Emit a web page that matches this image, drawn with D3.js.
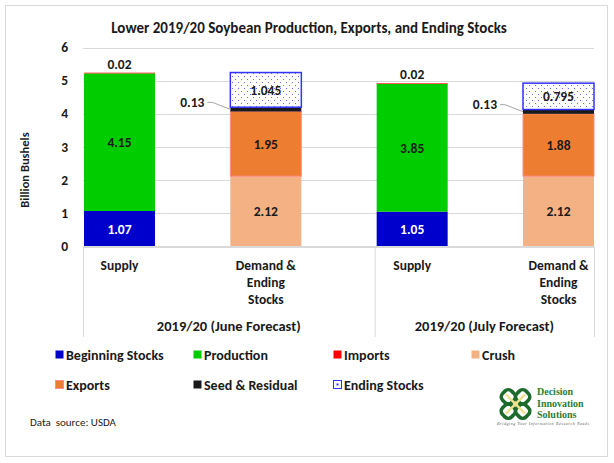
<!DOCTYPE html>
<html><head><meta charset="utf-8">
<script src="https://cdn.jsdelivr.net/npm/d3@7"></script>
<style>
html,body{margin:0;padding:0;background:#fff;}
svg{display:block;font-family:Carlito,Lato,"Open Sans",sans-serif;}
</style></head>
<body><svg id="c" width="614" height="463"></svg>
<script>
// ---- data ----
const title = "Lower 2019/20 Soybean Production, Exports, and Ending Stocks";
const categories = ["Supply", "Demand & Ending Stocks", "Supply", "Demand & Ending Stocks"];
const groups = ["2019/20 (June Forecast)", "2019/20 (July Forecast)"];
const seriesNames = ["Beginning Stocks", "Production", "Imports", "Crush", "Exports", "Seed & Residual", "Ending Stocks"];
const beginningStocks = [1.07, 0, 1.05, 0];
const production      = [4.15, 0, 3.85, 0];
const imports         = [0.02, 0, 0.02, 0];
const crush           = [0, 2.12, 0, 2.12];
const exportsV        = [0, 1.95, 0, 1.88];
const seedResidual    = [0, 0.13, 0, 0.13];
const endingStocks    = [0, 1.045, 0, 0.795];
const labelText = [
  ["1.07", "", "1.05", ""],
  ["4.15", "", "3.85", ""],
  ["0.02", "", "0.02", ""],
  ["", "2.12", "", "2.12"],
  ["", "1.95", "", "1.88"],
  ["", "0.13", "", "0.13"],
  ["", "1.045", "", "0.795"]
];
const yTicks = [0, 1, 2, 3, 4, 5, 6];
const colors = ["#0000CC", "#00CC00", "#FF0000", "#F4B183", "#ED7D31", "#1A1A1A", "url(#dots)"];
const strokes = ["none", "none", "none", "none", "#FF8C8C", "none", "#3333FF"];

// ---- build ----
const svg = d3.select("#c");
const keys = categories.map((c, i) => i + "|" + c);
const rows = keys.map((k, i) => ({
  key: k, i,
  "Beginning Stocks": beginningStocks[i], "Production": production[i], "Imports": imports[i],
  "Crush": crush[i], "Exports": exportsV[i], "Seed & Residual": seedResidual[i], "Ending Stocks": endingStocks[i]
}));
const stack = d3.stack().keys(seriesNames)(rows);

const y = d3.scaleLinear().domain([0, 6]).range([246.5, 47.5]);
const x = d3.scalePoint().domain(keys).range([119.5, 558.5]);
const bw = 71;
const plotL = 83, plotR = 594;

const defs = svg.append("defs");
const pat = defs.append("pattern").attr("id", "dots").attr("patternUnits", "userSpaceOnUse")
  .attr("width", 6).attr("height", 6);
pat.append("rect").attr("width", 6).attr("height", 6).attr("fill", "#fff");
pat.append("rect").attr("x", 1).attr("y", 1).attr("width", 1).attr("height", 1).attr("fill", "#6f6fff");
pat.append("rect").attr("x", 4).attr("y", 4).attr("width", 1).attr("height", 1).attr("fill", "#6f6fff");

// outer border
svg.append("rect").attr("x", 5.5).attr("y", 5.5).attr("width", 602).attr("height", 451)
  .attr("fill", "none").attr("stroke", "#d9d9d9");

// title
svg.append("text").attr("x", 309).attr("y", 33).attr("text-anchor", "middle")
  .attr("font-size", 15).attr("font-weight", "bold").attr("fill", "#1a1a1a").text(title);

// gridlines + y ticks
svg.append("g").selectAll("line").data(yTicks).join("line")
  .attr("x1", plotL).attr("x2", plotR).attr("y1", d => Math.round(y(d)) + 0.5).attr("y2", d => Math.round(y(d)) + 0.5)
  .attr("stroke", "#d9d9d9").attr("stroke-width", 1);
svg.append("g").selectAll("text").data(yTicks).join("text")
  .attr("x", 68).attr("y", d => y(d) + 4.5).attr("text-anchor", "end")
  .attr("font-size", 13.5).attr("font-weight", "bold").attr("fill", "#1a1a1a").text(d => d);

// y title
svg.append("text").attr("transform", "translate(29,170) rotate(-90)").attr("text-anchor", "middle")
  .attr("font-size", 12.5).attr("font-weight", "bold").attr("fill", "#1a1a1a").text("Billion Bushels");

// bars
stack.forEach((s, si) => {
  svg.append("g").selectAll("rect").data(s.filter(d => d[1] - d[0] > 0)).join("rect")
    .attr("x", d => x(d.data.key) - bw / 2)
    .attr("y", d => y(d[1]))
    .attr("width", bw)
    .attr("height", d => y(d[0]) - y(d[1]))
    .attr("fill", colors[si])
    .attr("stroke", strokes[si])
    .attr("stroke-width", si === 6 ? 1.5 : 1);
});

// data labels
stack.forEach((s, si) => {
  s.forEach((d, i) => {
    const t = labelText[si][i];
    if (!t) return;
    const cx = x(d.data.key);
    const mid = (y(d[0]) + y(d[1])) / 2;
    if (seriesNames[si] === "Imports") {
      svg.append("text").attr("x", cx).attr("y", y(d[1]) - 4).attr("text-anchor", "middle")
        .attr("font-size", 13.5).attr("font-weight", "bold").attr("fill", "#1a1a1a").text(t);
    } else if (seriesNames[si] === "Seed & Residual") {
      const bl = cx - bw / 2;
      svg.append("polyline").attr("points", [[bl - 23, mid - 7], [bl - 18, mid - 7], [bl, mid]].join(" "))
        .attr("fill", "none").attr("stroke", "#a6a6a6").attr("stroke-width", 1);
      svg.append("text").attr("x", bl - 26).attr("y", mid - 2.5).attr("text-anchor", "end")
        .attr("font-size", 13.5).attr("font-weight", "bold").attr("fill", "#1a1a1a").text(t);
    } else {
      svg.append("text").attr("x", cx).attr("y", mid + 5).attr("text-anchor", "middle")
        .attr("font-size", 13.5).attr("font-weight", "bold")
        .attr("fill", seriesNames[si] === "Beginning Stocks" ? "#fff" : "#1a1a1a").text(t);
    }
  });
});

// category axis
const axisY = 246.5;
svg.append("line").attr("x1", plotL).attr("x2", plotR).attr("y1", axisY).attr("y2", axisY).attr("stroke", "#d9d9d9");
const sep = x(keys[2]) - bw / 2 - 2;
[plotL, sep, plotR].forEach(xx => {
  svg.append("line").attr("x1", xx + 0.5).attr("x2", xx + 0.5).attr("y1", axisY).attr("y2", 337).attr("stroke", "#d9d9d9");
});
keys.forEach((k, i) => {
  const lines = categories[i] === "Supply" ? ["Supply"] : ["Demand &", "Ending", "Stocks"];
  const t = svg.append("text").attr("text-anchor", "middle").attr("font-size", 13.5).attr("font-weight", "bold").attr("fill", "#1a1a1a");
  lines.forEach((l, j) => t.append("tspan").attr("x", x(k)).attr("y", 270 + j * 17).text(l));
});
const groupCenters = [(plotL + sep) / 2, (sep + plotR) / 2];
groups.forEach((g, i) => {
  svg.append("text").attr("x", groupCenters[i]).attr("y", 331).attr("text-anchor", "middle")
    .attr("font-size", 14.5).attr("font-weight", "bold").attr("fill", "#1a1a1a").text(g);
});

// legend
const legX = [55, 193, 333, 471];
seriesNames.forEach((n, i) => {
  const lx = legX[i % 4], ly = i < 4 ? 355 : 385;
  svg.append("rect").attr("x", lx + 0.5).attr("y", ly - 4.5).attr("width", 8).attr("height", 8)
    .attr("fill", colors[i] === "url(#dots)" ? "#fff" : colors[i])
    .attr("stroke", i === 6 ? "#3333FF" : (i === 4 ? "#FF8C8C" : "none"));
  if (i === 6) svg.append("rect").attr("x", lx + 3.5).attr("y", ly - 1.5).attr("width", 2).attr("height", 2).attr("fill", "#3333FF");
  svg.append("text").attr("x", lx + 11).attr("y", ly + 5).attr("font-size", 14).attr("font-weight", "bold")
    .attr("fill", "#1a1a1a").text(n);
});

// data source
svg.append("text").attr("x", 30).attr("y", 426).attr("font-size", 11).attr("fill", "#1a1a1a").text("Data  source: USDA").attr("xml:space", "preserve");

// logo
const lg = svg.append("g").attr("transform", "translate(515.5,404) scale(0.8)");
[[-9, -9], [9, -9], [-9, 9], [9, 9]].forEach(([dx, dy]) => {
  lg.append("rect").attr("x", dx - 8).attr("y", dy - 8).attr("width", 16).attr("height", 16).attr("rx", 6)
    .attr("transform", "rotate(45," + dx + "," + dy + ")")
    .attr("fill", "none").attr("stroke", "#1d6b2c").attr("stroke-width", 4.5);
});
lg.append("path").attr("d", "M-12,-12 L12,12 M12,-12 L-12,12").attr("stroke", "#f1e08a").attr("stroke-width", 3);
const lt = svg.append("g").attr("font-family", "'Liberation Serif','DejaVu Serif',serif").attr("font-weight", "bold").attr("fill", "#2e7d32").attr("font-size", 10);
["Decision", "Innovation", "Solutions"].forEach((w, i) => lt.append("text").attr("x", 537).attr("y", 395 + i * 11.5).text(w));
svg.append("text").attr("x", 497).attr("y", 425).attr("font-family", "'Liberation Serif',serif").attr("font-style", "italic")
  .attr("font-size", 4).attr("fill", "#555").attr("textLength", 92).text("Bridging Your Information Research Needs");
</script></body></html>
